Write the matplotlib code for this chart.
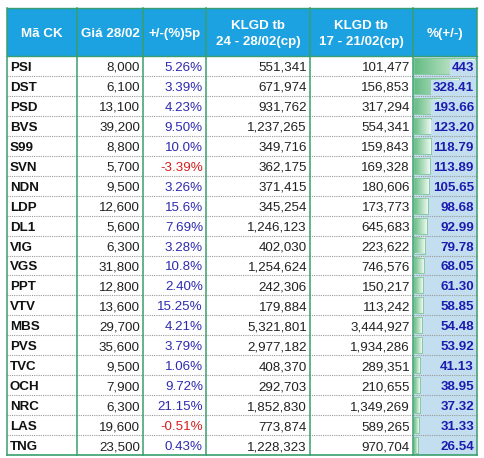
import matplotlib
matplotlib.use("Agg")
import matplotlib.pyplot as plt
import numpy as np
from matplotlib.patches import Rectangle
from matplotlib.colors import LinearSegmentedColormap

headers = ["Mã CK", "Giá 28/02", "+/-(%)5p", "KLGD tb\n24 - 28/02(cp)", "KLGD tb\n17 - 21/02(cp)", "%(+/-)"]
tickers = ["PSI", "DST", "PSD", "BVS", "S99", "SVN", "NDN", "LDP", "DL1", "VIG",
           "VGS", "PPT", "VTV", "MBS", "PVS", "TVC", "OCH", "NRC", "LAS", "TNG"]
prices = ["8,000", "6,100", "13,100", "39,200", "8,800", "5,700", "9,500", "12,600", "5,600", "6,300",
          "31,800", "12,800", "13,600", "29,700", "35,600", "9,500", "7,900", "6,300", "19,600", "23,500"]
changes = ["5.26%", "3.39%", "4.23%", "9.50%", "10.0%", "-3.39%", "3.26%", "15.6%", "7.69%", "3.28%",
           "10.8%", "2.40%", "15.25%", "4.21%", "3.79%", "1.06%", "9.72%", "21.15%", "-0.51%", "0.43%"]
vol_now = ["551,341", "671,974", "931,762", "1,237,265", "349,716", "362,175", "371,415", "345,254",
           "1,246,123", "402,030", "1,254,624", "242,306", "179,884", "5,321,801", "2,977,182",
           "408,370", "292,703", "1,852,830", "773,874", "1,228,323"]
vol_prev = ["101,477", "156,853", "317,294", "554,341", "159,843", "169,328", "180,606", "173,773",
            "645,683", "223,622", "746,576", "150,217", "113,242", "3,444,927", "1,934,286",
            "289,351", "210,655", "1,349,269", "589,265", "970,704"]
pct_vol = [443, 328.41, 193.66, 123.20, 118.79, 113.89, 105.65, 98.68, 92.99, 79.78,
           68.05, 61.30, 58.85, 54.48, 53.92, 41.13, 38.95, 37.32, 31.33, 26.54]
pct_labels = ["443", "328.41", "193.66", "123.20", "118.79", "113.89", "105.65", "98.68", "92.99", "79.78",
              "68.05", "61.30", "58.85", "54.48", "53.92", "41.13", "38.95", "37.32", "31.33", "26.54"]

W, H = 485, 458
fig = plt.figure(figsize=(W / 100, H / 100), dpi=100)
ax = fig.add_axes([0, 0, 1, 1])
ax.set_xlim(0, W)
ax.set_ylim(H, 0)
ax.axis("off")

plt.rcParams['font.family'] = ['Liberation Sans', 'DejaVu Sans']

cols = [7, 77, 143, 206, 310, 413, 477]
top, head_bot, bottom = 8, 56, 455
n = len(tickers)
rh = (bottom - head_bot) / n
fs = 9.6
green_line = "#3a9e6e"
header_blue = "#1ca2e0"

# header background
ax.add_patch(Rectangle((cols[0], top), cols[-1] - cols[0], head_bot - top,
                       facecolor=header_blue, edgecolor="none", zorder=1))
for j, h in enumerate(headers):
    cx = (cols[j] + cols[j + 1]) / 2
    ax.text(cx, (top + head_bot) / 2 + 2, h, ha="center", va="center", color="white",
            fontsize=fs, fontweight="bold", linespacing=1.45, zorder=5)

# last column background
ax.add_patch(Rectangle((cols[5], head_bot), cols[6] - cols[5], bottom - head_bot,
                       facecolor="#c3deee", edgecolor="none", zorder=1))

# data bars with gradient
maxv = max(pct_vol)
bar_x0 = cols[5] + 1.5
bar_wmax = cols[6] - bar_x0 - 2
grad = np.linspace(0, 1, 256).reshape(1, -1)
cmap = LinearSegmentedColormap.from_list("g", ["#63bb83", "#a8d9b7", "#eef8f1"])
for i, v in enumerate(pct_vol):
    y0 = head_bot + i * rh + 2
    y1 = head_bot + (i + 1) * rh - 2
    bw = v / maxv * bar_wmax
    ax.imshow(grad, extent=(bar_x0, bar_x0 + bw, y1, y0), cmap=cmap, aspect="auto",
              interpolation="bilinear", zorder=2)
    ax.add_patch(Rectangle((bar_x0, y0), bw, y1 - y0, facecolor="none",
                           edgecolor="#7cc796", linewidth=0.6, zorder=2.5))

# body rows
for i in range(n):
    cy = head_bot + (i + 0.5) * rh + 2
    ax.text(cols[0] + 3, cy, tickers[i], ha="left", va="center", fontsize=fs,
            fontweight="bold", color="#111111", zorder=5)
    ax.text(cols[2] - 3, cy, prices[i], ha="right", va="center", fontsize=fs, color="#222222", zorder=5)
    ccol = "#d42020" if changes[i].startswith("-") else "#2e2bb0"
    ax.text(cols[3] - 3, cy, changes[i], ha="right", va="center", fontsize=fs, color=ccol, zorder=5)
    ax.text(cols[4] - 3, cy, vol_now[i], ha="right", va="center", fontsize=fs, color="#222222", zorder=5)
    ax.text(cols[5] - 3, cy, vol_prev[i], ha="right", va="center", fontsize=fs, color="#222222", zorder=5)
    ax.text(cols[6] - 3, cy, pct_labels[i], ha="right", va="center", fontsize=fs, fontweight="bold",
            color="#1c1cb0", zorder=5,
            bbox=dict(boxstyle="square,pad=0.12", facecolor="#c3deee", edgecolor="none"))
    if i > 0:
        yl = head_bot + i * rh
        ax.plot([cols[0], cols[-1]], [yl, yl], color="#9a9a9a", linewidth=0.8,
                linestyle=(0, (1, 1)), zorder=4)

# vertical lines
for j, x in enumerate(cols):
    ax.plot([x, x], [top, bottom], color=green_line, linewidth=1.1, zorder=6)
ax.plot([cols[0], cols[-1]], [top, top], color=green_line, linewidth=1.0, zorder=6)
ax.plot([cols[0], cols[-1]], [head_bot, head_bot], color=green_line, linewidth=1.0, zorder=6)
ax.plot([cols[0], cols[-1]], [bottom, bottom], color=green_line, linewidth=1.2, zorder=6)

fig.savefig("out.png", dpi=100)
